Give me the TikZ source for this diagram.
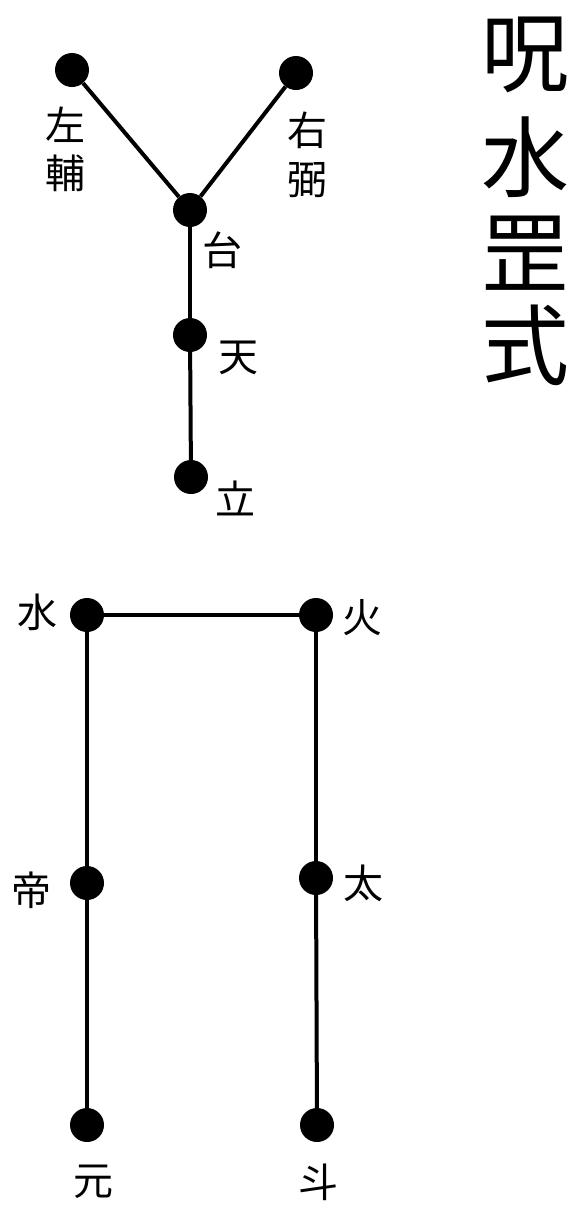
\documentclass[tikz,border=0pt]{standalone}
\usepackage{fontspec}
\newfontfamily\cjk{Noto Sans CJK JP}
\begin{document}
\begin{tikzpicture}[x=1pt,y=-1pt,
  dot/.style={circle,fill=black,inner sep=0pt,minimum size=34pt},
  lab/.style={font=\cjk\fontsize{40}{44}\selectfont,inner sep=0pt},
  ttl/.style={font=\cjk\fontsize{88}{92}\selectfont,inner sep=0pt},
  edge/.style={line width=4pt}]
\useasboundingbox (0,0) rectangle (576,1229);
\node[dot] (zf) at (72,70) {};
\node[dot] (yb) at (296,73) {};
\node[dot] (tai) at (190,210) {};
\node[dot] (tian) at (190,335) {};
\node[dot] (li) at (191,477) {};
\node[dot] (shui) at (87,615) {};
\node[dot] (huo) at (316,615) {};
\node[dot] (di) at (87,883) {};
\node[dot] (taiy) at (316,878) {};
\node[dot] (yuan) at (87,1125) {};
\node[dot] (dou) at (317,1125) {};
\draw[edge] (zf) -- (tai);
\draw[edge] (yb) -- (tai);
\draw[edge] (tai) -- (tian);
\draw[edge] (tian) -- (li);
\draw[edge] (shui) -- (huo);
\draw[edge] (shui) -- (di);
\draw[edge] (di) -- (yuan);
\draw[edge] (huo) -- (taiy);
\draw[edge] (taiy) -- (dou);
\node[lab] (l1) at (65,125) {左};
\node[lab] (l2) at (65,173) {輔};
\node[lab] (r1) at (307,130) {右};
\node[lab] (r2) at (307,180) {弼};
\node[lab] (t1) at (222,250) {台};
\node[lab] (t2) at (238,358) {天};
\node[lab] (t3) at (235,498) {立};
\node[lab] (s1) at (37,612) {水};
\node[lab] (h1) at (362,618) {火};
\node[lab] (d1) at (32,890) {帝};
\node[lab] (ty1) at (363,883) {太};
\node[lab] (y1) at (93,1182) {元};
\node[lab] (do1) at (318,1182) {斗};
\node[ttl] (a1) at (525,55) {呪};
\node[ttl] (a2) at (525,157) {水};
\node[ttl] (a3) at (525,253) {罡};
\node[ttl] (a4) at (525,345) {式};
\end{tikzpicture}
\end{document}
